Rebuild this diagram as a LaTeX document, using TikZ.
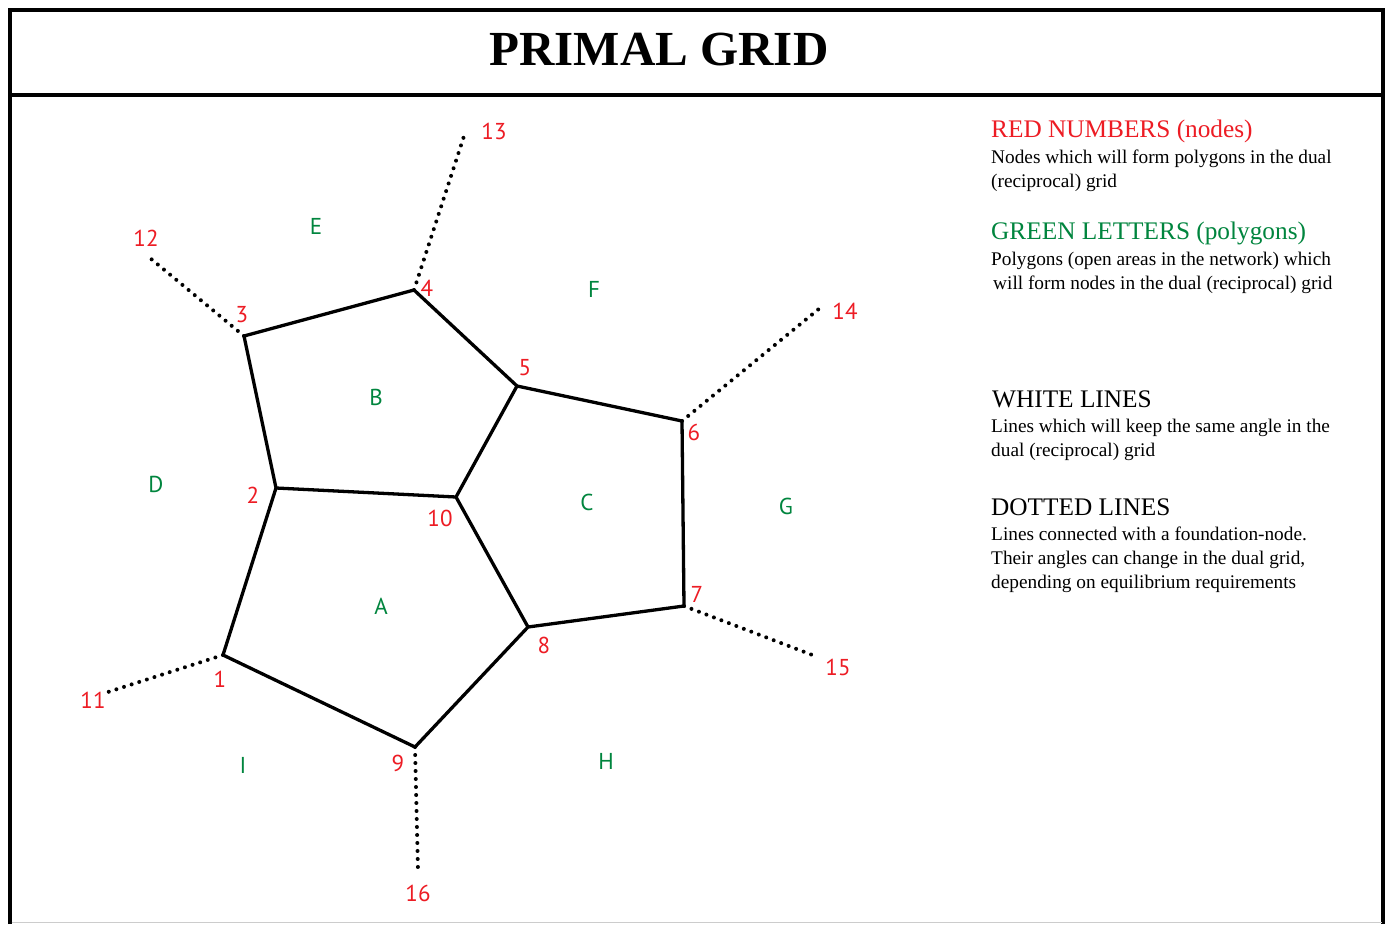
\documentclass[tikz,border=0pt]{standalone}
\usepackage{fontspec}
\setmainfont{Liberation Serif}
\newfontfamily\labfont{PT Sans}
\definecolor{nred}{RGB}{237,28,36}
\definecolor{pgreen}{RGB}{0,133,62}
\begin{document}
\begin{tikzpicture}[x=1pt,y=-1pt,
  edge/.style={line width=3.3pt,line join=miter},
  foundation/.style={line width=4pt,line cap=round,dash pattern=on 0pt off 8pt},
  numlab/.style={text=nred,font=\labfont\fontsize{23}{26}\selectfont,inner sep=0pt},
  letlab/.style={text=pgreen,font=\labfont\fontsize{23}{26}\selectfont,inner sep=0pt},
  head/.style={anchor=base west,inner sep=0pt,font=\fontsize{25.3}{28}\selectfont},
  body/.style={anchor=base west,inner sep=0pt,font=\fontsize{19.3}{24}\selectfont,align=left}]
\useasboundingbox (0,0) rectangle (1391,924);
\fill[white] (0,0) rectangle (1391,924);
% frame
\draw[line width=3.3pt] (10,924) -- (10,10) -- (1383,10) -- (1383,924);
\draw[line width=3.3pt] (10,95) -- (1383,95);
\draw[line width=1pt,black!20] (11.5,922.5) -- (1381.5,922.5);
\node[inner sep=0pt,font=\bfseries\fontsize{49}{56}\selectfont] (title) at (659,50) {PRIMAL GRID};
% vertices
\coordinate (v1) at (223,655);
\coordinate (v2) at (276,488);
\coordinate (v3) at (244,336);
\coordinate (v4) at (414,290);
\coordinate (v5) at (517,386);
\coordinate (v6) at (682,421);
\coordinate (v7) at (684,606);
\coordinate (v8) at (528,627);
\coordinate (v9) at (415,747);
\coordinate (v10) at (456,497);
\coordinate (f11) at (108,692);
\coordinate (f12) at (150,258);
\coordinate (f13) at (465,133);
\coordinate (f14) at (820,308);
\coordinate (f15) at (815,656);
\coordinate (f16) at (418,871);
% foundation lines
\draw[foundation] (v1) -- (f11);
\draw[foundation] (v3) -- (f12);
\draw[foundation] (v4) -- (f13);
\draw[foundation] (v6) -- (f14);
\draw[foundation] (v7) -- (f15);
\draw[foundation] (v9) -- (f16);
% grid lines
\draw[edge] (v1) -- (v2) -- (v3) -- (v4) -- (v5) -- (v6) -- (v7) -- (v8) -- (v9) -- cycle;
\draw[edge] (v2) -- (v10) -- (v5);
\draw[edge] (v10) -- (v8);
% node numbers
\node[numlab] (n1) at (220,679) {1};
\node[numlab] (n2) at (253,495) {2};
\node[numlab] (n3) at (242,315) {3};
\node[numlab] (n4) at (427,288) {4};
\node[numlab] (n5) at (525,368) {5};
\node[numlab] (n6) at (694,432) {6};
\node[numlab] (n7) at (697,594) {7};
\node[numlab] (n8) at (544,645) {8};
\node[numlab] (n9) at (398,763) {9};
\node[numlab] (n10) at (440,518) {10};
\node[numlab] (n11) at (93,700) {11};
\node[numlab] (n12) at (146,238) {12};
\node[numlab] (n13) at (494,131) {13};
\node[numlab] (n14) at (845,311) {14};
\node[numlab] (n15) at (838,667) {15};
\node[numlab] (n16) at (418,893) {16};
% polygon letters
\node[letlab] (pA) at (381,606) {A};
\node[letlab] (pB) at (376,397) {B};
\node[letlab] (pC) at (587,502) {C};
\node[letlab] (pD) at (156,484) {D};
\node[letlab] (pE) at (316,226) {E};
\node[letlab] (pF) at (594,289) {F};
\node[letlab] (pG) at (786,506) {G};
\node[letlab] (pH) at (606,761) {H};
\node[letlab] (pI) at (243,765) {I};
% legend (body nodes anchored at the baseline of their last line)
\node[head,text=nred] (h1) at (991,137) {RED NUMBERS (nodes)};
\node[body] (b1) at (991,187) {Nodes which will form polygons in the dual\\(reciprocal) grid};
\node[head,text=pgreen] (h2) at (991,239) {GREEN LETTERS (polygons)};
\node[body] (b2) at (991,289) {Polygons (open areas in the network) which\\\hspace{2pt}will form nodes in the dual (reciprocal) grid};
\node[head] (h3) at (992,407) {WHITE LINES};
\node[body] (b3) at (991,456) {Lines which will keep the same angle in the\\dual (reciprocal) grid};
\node[head] (h4) at (991,515) {DOTTED LINES};
\node[body] (b4) at (991,588) {Lines connected with a foundation-node.\\Their angles can change in the dual grid,\\depending on equilibrium requirements};
\end{tikzpicture}
\end{document}
